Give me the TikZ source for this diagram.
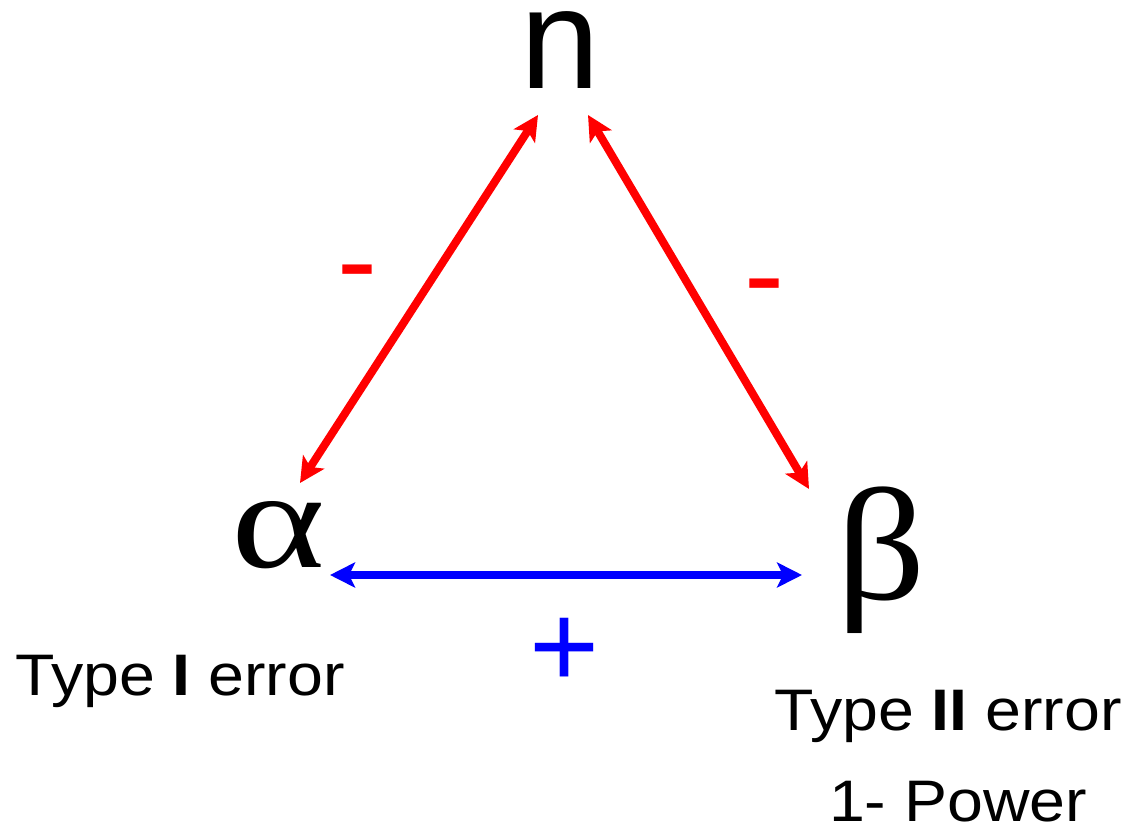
\documentclass[tikz,border=0pt]{standalone}
\usepackage{fontspec}
\setmainfont{Liberation Sans}
\newfontfamily\alphafont[FakeStretch=1.28]{Liberation Serif}
\newfontfamily\betafont[FakeStretch=1.1]{Liberation Serif}
\newfontfamily\labelfont[FakeStretch=1.1]{Liberation Sans}
\usetikzlibrary{arrows.meta}
\definecolor{pptred}{RGB}{255,0,0}
\definecolor{pptblue}{RGB}{0,0,255}
\begin{document}
\begin{tikzpicture}[x=0.5pt,y=-0.5pt,
  tip/.tip={Stealth[length=12.5pt,width=12.5pt,inset=3pt]},
  conn/.style={line width=4pt,tip-tip},
  base/.style={inner sep=0pt,anchor=base},
  varfont/.style={base,font=\fontsize{71.5pt}{80pt}\selectfont},
  alphastyle/.style={base,font=\alphafont\fontsize{70pt}{80pt}\selectfont},
  betastyle/.style={base,font=\betafont\fontsize{80pt}{86pt}\selectfont},
  sign/.style={base,font=\fontsize{60pt}{66pt}\selectfont},
  lab/.style={base,font=\labelfont\fontsize{29.3pt}{34pt}\selectfont}]
\useasboundingbox (0,0) rectangle (1127,828);
% variables
\node[varfont] (n) at (560,89) {n};
\node[alphastyle] (alpha) at (278,567) {α};
\node[betastyle] (beta) at (881,599) {β};
% arrow end points
\coordinate (nL) at (538,115);
\coordinate (nR) at (588,115);
\coordinate (aT) at (300,483);
\coordinate (bT) at (809,489);
\coordinate (aR) at (330,575);
\coordinate (bL) at (802,575);
\draw[conn,pptred] (nL) -- (aT);
\draw[conn,pptred] (nR) -- (bT);
\draw[conn,pptblue] (aR) -- (bL);
% signs
\node[sign,text=pptred] (m1) at (357,301) {-};
\node[sign,text=pptred] (m2) at (764,315) {-};
\node[sign,text=pptblue] (p1) at (565,687) {+};
% labels
\node[lab] (t1) at (180,695) {Type \textbf{I} error};
\node[lab] (t2) at (948,730) {Type \textbf{II} error};
\node[lab] (pw) at (958,821) {1- Power};
\end{tikzpicture}
\end{document}
